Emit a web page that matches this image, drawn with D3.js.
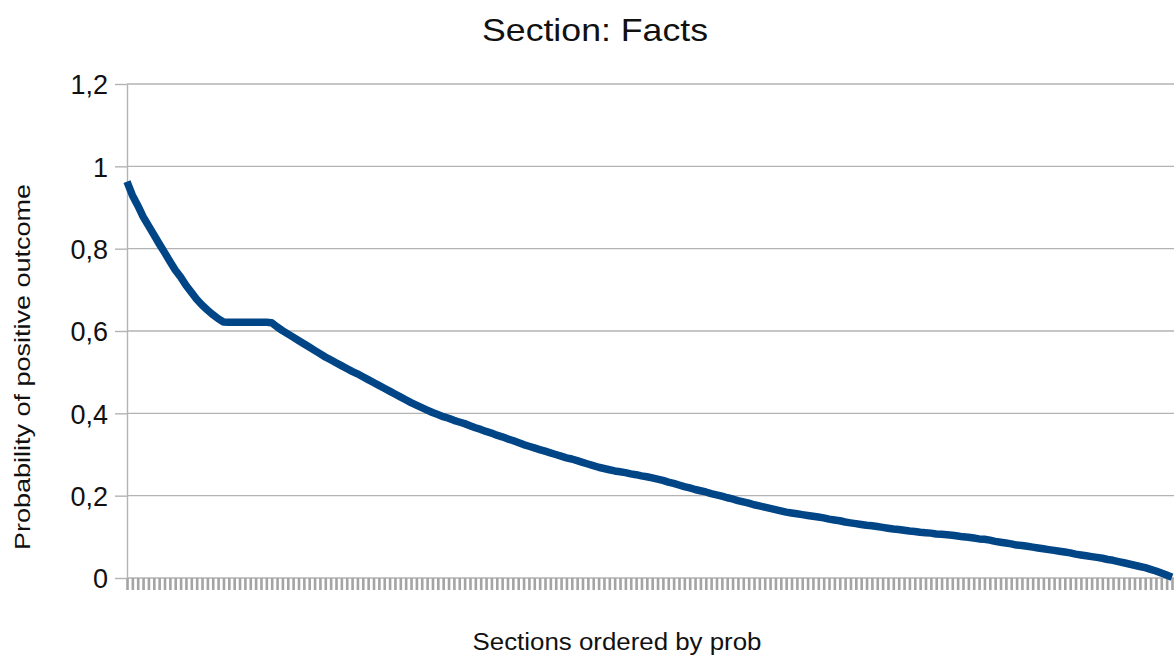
<!DOCTYPE html>
<html>
<head>
<meta charset="utf-8">
<script src="https://cdn.jsdelivr.net/npm/d3@7"></script>
<style>
  body { margin: 0; background: #fff; }
  text { font-family: "Liberation Sans", Arial, sans-serif; fill: #111; }
</style>
</head>
<body>
<div id="myPlot"></div>
<script>
// Chart data
const chartTitle = "Section: Facts";
const xTitle = "Sections ordered by prob";
const yTitle = "Probability of positive outcome";
const yTicks = [0, 0.2, 0.4, 0.6, 0.8, 1, 1.2];
const yTickLabels = ["0", "0,2", "0,4", "0,6", "0,8", "1", "1,2"];

// probability per section, sorted high to low
const probs = [
  0.963,0.930,0.905,0.878,0.856,0.834,0.812,0.791,0.769,0.748,
  0.731,0.711,0.694,0.677,0.663,0.651,0.640,0.630,0.622,0.621,
  0.621,0.621,0.621,0.621,0.621,0.621,0.621,0.620,0.610,0.601,
  0.593,0.585,0.577,0.569,0.561,0.553,0.545,0.537,0.530,0.523,
  0.516,0.509,0.502,0.496,0.489,0.482,0.475,0.468,0.461,0.454,
  0.447,0.440,0.433,0.426,0.420,0.414,0.408,0.402,0.397,0.392,
  0.388,0.383,0.379,0.375,0.370,0.365,0.361,0.356,0.352,0.347,
  0.343,0.338,0.334,0.329,0.324,0.320,0.316,0.312,0.308,0.304,
  0.300,0.296,0.292,0.289,0.285,0.281,0.277,0.273,0.269,0.266,
  0.263,0.260,0.258,0.256,0.253,0.251,0.248,0.246,0.243,0.240,
  0.237,0.233,0.230,0.226,0.222,0.219,0.215,0.212,0.209,0.205,
  0.202,0.199,0.195,0.192,0.188,0.185,0.182,0.178,0.175,0.172,
  0.169,0.166,0.163,0.160,0.158,0.156,0.154,0.152,0.150,0.148,
  0.146,0.143,0.141,0.139,0.136,0.134,0.132,0.130,0.128,0.127,
  0.125,0.123,0.121,0.119,0.118,0.116,0.114,0.113,0.111,0.110,
  0.109,0.107,0.106,0.105,0.104,0.102,0.100,0.099,0.097,0.095,
  0.094,0.092,0.089,0.087,0.085,0.083,0.080,0.079,0.077,0.075,
  0.073,0.071,0.069,0.067,0.065,0.063,0.061,0.058,0.056,0.054,
  0.052,0.050,0.048,0.045,0.043,0.040,0.037,0.034,0.031,0.028,
  0.025,0.021,0.017,0.012,0.007,0.002
];
const sections = probs.map((d, i) => "S" + (i + 1));

// Set Dimensions
const width = 1174;
const height = 660;
const plotLeft = 127;
const plotRight = 1172;
const plotTop = 84;
const plotBottom = 578;

const svg = d3.select("#myPlot")
  .append("svg")
  .attr("width", width)
  .attr("height", height);

svg.append("rect")
  .attr("width", width)
  .attr("height", height)
  .attr("fill", "#fff");

// X scale (points sit on tick marks)
const x = d3.scalePoint()
  .domain(sections)
  .range([plotLeft, plotRight])
  .padding(0);

// Y scale
const y = d3.scaleLinear()
  .domain([0, 1.2])
  .range([plotBottom, plotTop]);

// Horizontal grid
svg.append("g")
  .selectAll("line")
  .data(yTicks).enter()
  .append("line")
  .attr("x1", plotLeft)
  .attr("x2", width)
  .attr("y1", d => y(d))
  .attr("y2", d => y(d))
  .attr("stroke", "#b3b3b3")
  .attr("stroke-width", 1.4);

// X axis: one tick per section, no labels
const xAxis = svg.append("g")
  .attr("transform", "translate(0," + plotBottom + ")")
  .call(d3.axisBottom(x).tickSize(12).tickSizeOuter(0).tickFormat(""));
xAxis.select(".domain").remove();
xAxis.selectAll(".tick line")
  .attr("stroke", "#a4a4a4")
  .attr("stroke-width", 2.6);

// Y axis
const yAxis = svg.append("g")
  .attr("transform", "translate(" + plotLeft + ",0)")
  .call(d3.axisLeft(y)
    .tickValues(yTicks)
    .tickSize(12)
    .tickSizeOuter(0)
    .tickPadding(7)
    .tickFormat((d, i) => yTickLabels[i]));
yAxis.select(".domain")
  .attr("stroke", "#b3b3b3")
  .attr("stroke-width", 1.4);
yAxis.selectAll(".tick line")
  .attr("stroke", "#b3b3b3")
  .attr("stroke-width", 1.4);
yAxis.selectAll(".tick text")
  .style("font-size", "27px")
  .style("font-family", "'Liberation Sans', Arial, sans-serif")
  .attr("fill", "#111")
  .attr("dy", "0.36em");

// Line
const line = d3.line()
  .x((d, i) => x(sections[i]))
  .y(d => y(d));

svg.append("path")
  .datum(probs)
  .attr("d", line)
  .attr("fill", "none")
  .attr("stroke", "#004586")
  .attr("stroke-width", 7.5)
  .attr("stroke-linejoin", "round");

// Titles
svg.append("text")
  .attr("x", 595)
  .attr("y", 41)
  .attr("text-anchor", "middle")
  .attr("textLength", 226)
  .attr("lengthAdjust", "spacingAndGlyphs")
  .style("font-size", "32px")
  .text(chartTitle);

svg.append("text")
  .attr("x", 617)
  .attr("y", 650)
  .attr("text-anchor", "middle")
  .attr("textLength", 289)
  .attr("lengthAdjust", "spacingAndGlyphs")
  .style("font-size", "23px")
  .text(xTitle);

svg.append("text")
  .attr("transform", "translate(30,367) rotate(-90)")
  .attr("text-anchor", "middle")
  .attr("textLength", 366)
  .attr("lengthAdjust", "spacingAndGlyphs")
  .style("font-size", "22px")
  .text(yTitle);
</script>
</body>
</html>
